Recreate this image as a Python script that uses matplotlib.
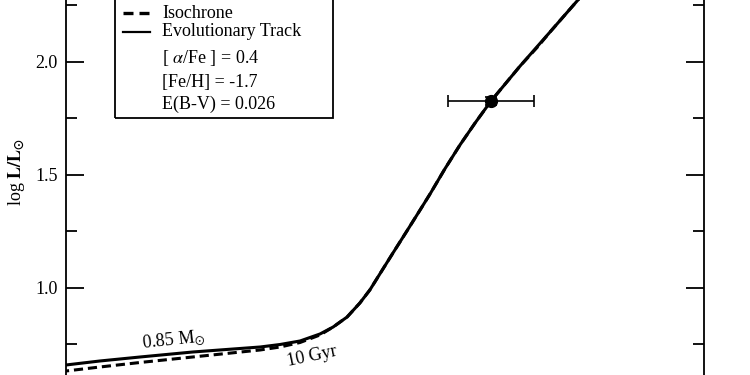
import matplotlib
matplotlib.use("Agg")
import matplotlib.pyplot as plt
from matplotlib.patches import Rectangle

plt.rcParams['font.family'] = ['Liberation Serif', 'DejaVu Serif']
plt.rcParams['mathtext.fontset'] = 'stix'

# evolutionary track (solid), log Teff / log L
track_logt = [3.7615, 3.7600, 3.7515, 3.7414, 3.7282, 3.7113, 3.7063, 3.7013,
              3.6963, 3.6930, 3.6895, 3.6863, 3.6838, 3.6813, 3.6780, 3.6745,
              3.6712, 3.6687, 3.6650, 3.6612, 3.6574, 3.6534, 3.6461, 3.6416,
              3.6386, 3.6316, 3.6261]
track_logl = [0.6549, 0.6593, 0.6770, 0.6947, 0.7168, 0.7389, 0.7500, 0.7655,
              0.7965, 0.8274, 0.8717, 0.9336, 0.9912, 1.0619, 1.1549, 1.2522,
              1.3451, 1.4159, 1.5265, 1.6327, 1.7301, 1.8274, 1.9823, 2.0726,
              2.1327, 2.2743, 2.3894]

# isochrone (dashed)
iso_logt = [3.7615, 3.7600, 3.7515, 3.7414, 3.7282, 3.7113, 3.7063, 3.7013,
            3.6963, 3.6930, 3.6895, 3.6863, 3.6838, 3.6813, 3.6780, 3.6745,
            3.6712, 3.6687, 3.6650, 3.6612, 3.6574, 3.6534, 3.6461, 3.6416,
            3.6386, 3.6316, 3.6261]
iso_logl = [0.6283, 0.6327, 0.6504, 0.6704, 0.6947, 0.7257, 0.7389, 0.7588,
            0.7920, 0.8274, 0.8717, 0.9336, 0.9912, 1.0619, 1.1549, 1.2522,
            1.3451, 1.4159, 1.5265, 1.6327, 1.7301, 1.8274, 1.9823, 2.0690,
            2.1327, 2.2743, 2.3894]

# observed star
star_logt = [3.6534]
star_logl = [1.8274]
star_err_t = [0.0107]
star_err_l = [0.018]

fig = plt.figure(figsize=(7.5, 3.75), dpi=100)
ax = fig.add_axes([66/750, 0, 638/750, 1])

ax.plot(iso_logt, iso_logl, color='black', lw=2.2, ls=(0, (3, 1.6)))
ax.plot(track_logt, track_logl, color='black', lw=2.2)
ax.errorbar(star_logt, star_logl, xerr=star_err_t, yerr=star_err_l, fmt='o',
            color='black', ms=8.5, elinewidth=1.2, capsize=4.3, capthick=1.2)

ax.set_xlim(3.76, 3.60)
ax.set_ylim(0.615, 2.274)
ax.set_yticks([1.0, 1.5, 2.0])
ax.set_yticks([0.75, 1.25, 1.75, 2.25], minor=True)
ax.set_yticklabels(['1.0', '1.5', '2.0'])
ax.set_xticks([])
ax.spines['top'].set_visible(False)
ax.spines['bottom'].set_visible(False)
for s in ('left', 'right'):
    ax.spines[s].set_linewidth(1.3)
ax.tick_params(axis='y', which='both', direction='in', left=True, right=True,
               width=1.3, labelsize=13, pad=6)
ax.tick_params(axis='y', which='major', length=13)
ax.tick_params(axis='y', which='minor', length=8)

ax.text(3.7409, 0.7345, r'0.85 M$_{\odot}$', fontsize=13, rotation=6,
        rotation_mode='anchor', ha='left', va='baseline')
ax.text(3.7043, 0.6549, '10 Gyr', fontsize=13, rotation=12,
        rotation_mode='anchor', ha='left', va='baseline')

fig.text(17/750, 1 - 172/375, r'log $\mathbf{L/L_{\odot}}$', fontsize=13,
         rotation=90, ha='center', va='center')

# legend box
def fx(px):
    return (px - 66) / 638

def fy(py):
    return 1 - py / 375

ax.add_patch(Rectangle((fx(115), fy(118)), fx(333) - fx(115), 0.5,
                       transform=ax.transAxes, fill=False, lw=1.3,
                       edgecolor='black', clip_on=False))
ax.plot([fx(123), fx(150)], [fy(13), fy(13)], transform=ax.transAxes,
        color='black', lw=2.4, ls=(0, (3, 1.8)))
ax.plot([fx(123), fx(150)], [fy(32), fy(32)], transform=ax.transAxes,
        color='black', lw=1.6)
for txt, py in [('Isochrone', 13), ('Evolutionary Track', 32),
                (r'[ $\alpha$/Fe ] = 0.4', 58), ('[Fe/H] = -1.7', 82),
                ('E(B-V) = 0.026', 104)]:
    ax.text(fx(162), fy(py), txt, transform=ax.transAxes, fontsize=13,
            ha='left', va='center')

fig.savefig('out.png', dpi=100)
